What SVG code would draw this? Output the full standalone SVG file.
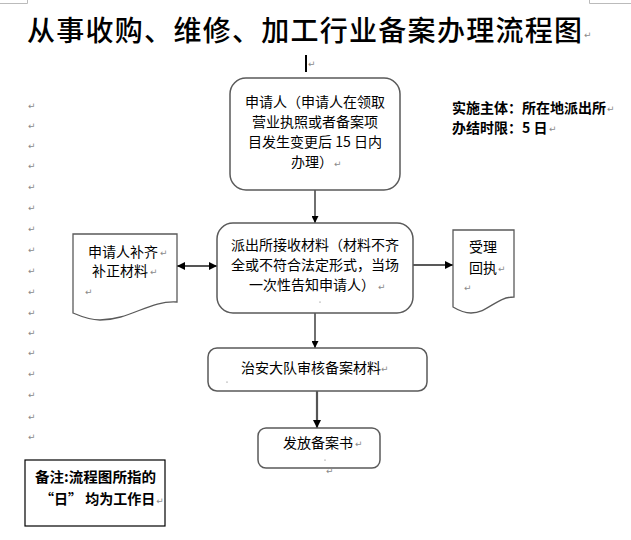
<svg xmlns="http://www.w3.org/2000/svg" width="631" height="540" viewBox="0 0 631 540">
<style>
text{font-family:"Noto Sans CJK SC","Noto Sans",sans-serif;fill:#000}
.t{font-size:14px;text-anchor:middle}
.b{font-size:14px;font-weight:bold}
.pm{font-family:"DejaVu Sans",sans-serif;font-size:9px;fill:#8a8a8a;font-weight:normal}
.box{fill:#fff;stroke:#5a5a5a;stroke-width:1.5}
.doc{fill:#fff;stroke:#5a5a5a;stroke-width:1.3}
.c{stroke:#222;stroke-width:1.3;fill:none}
.cg{stroke:#555;stroke-width:2.2;fill:none}
.crop{stroke:#bbb;stroke-width:1;fill:none}
</style>
<defs>
<marker id="ah" viewBox="0 0 10 10" refX="10" refY="5" markerWidth="7" markerHeight="7" markerUnits="userSpaceOnUse" orient="auto-start-reverse">
<path d="M0,0 L10,5 L0,10 Z" fill="#000"/>
</marker>
<marker id="ah2" viewBox="0 0 10 10" refX="10" refY="5" markerWidth="8" markerHeight="8" markerUnits="userSpaceOnUse" orient="auto-start-reverse">
<path d="M0,0 L10,5 L0,10 Z" fill="#000"/>
</marker>
</defs>
<rect width="631" height="540" fill="#fff"/>
<g id="page-marks">
<path class="crop" d="M0,3.5 H27.5 V0 M631,3.5 H589.5 V0"/>
<rect x="305" y="55" width="2" height="17" fill="#000"/>
<text class="pm" x="308" y="67">↵</text>
<g id="left-marks">
<text class="pm" x="28" y="109">↵</text>
<text class="pm" x="28" y="129">↵</text>
<text class="pm" x="28" y="149">↵</text>
<text class="pm" x="28" y="169">↵</text>
<text class="pm" x="28" y="190">↵</text>
<text class="pm" x="28" y="211">↵</text>
<text class="pm" x="28" y="232">↵</text>
<text class="pm" x="28" y="253">↵</text>
<text class="pm" x="28" y="274">↵</text>
<text class="pm" x="28" y="295">↵</text>
<text class="pm" x="28" y="316">↵</text>
<text class="pm" x="28" y="336">↵</text>
<text class="pm" x="28" y="356">↵</text>
<text class="pm" x="28" y="377">↵</text>
<text class="pm" x="28" y="398">↵</text>
<text class="pm" x="28" y="420">↵</text>
<text class="pm" x="28" y="440">↵</text>
</g>
</g>
<g id="title">
<text x="27" y="41" font-size="28" font-weight="500" textLength="555" lengthAdjust="spacing">从事收购、维修、加工行业备案办理流程图</text>
<text class="pm" x="584" y="38">↵</text>
</g>
<g id="info">
<text class="b" x="452" y="113">实施主体：所在地派出所</text>
<text class="pm" x="607" y="112">↵</text>
<text class="b" x="452" y="133">办结时限：5 日</text>
<text class="pm" x="549" y="132">↵</text>
</g>
<g id="connectors">
<line class="c" x1="315" y1="190" x2="315" y2="223" marker-end="url(#ah)"/>
<line class="cg" x1="177" y1="266" x2="217" y2="266" marker-start="url(#ah2)" marker-end="url(#ah2)"/>
<line class="c" x1="412" y1="265" x2="453" y2="265" marker-end="url(#ah2)"/>
<line class="c" x1="315" y1="313" x2="315" y2="348" marker-end="url(#ah)"/>
<line class="cg" x1="317" y1="391" x2="317" y2="428" marker-end="url(#ah2)"/>
</g>
<g id="node-applicant">
<rect class="box" x="230" y="78" width="170" height="112" rx="16"/>
<text class="t" x="315" y="107">申请人（申请人在领取</text>
<text class="t" x="315" y="127">营业执照或者备案项</text>
<text class="t" x="315" y="147">目发生变更后 15 日内</text>
<text class="t" x="312" y="167">办理）</text>
<text class="pm" x="334" y="167">↵</text>
</g>
<g id="node-receive">
<rect class="box" x="217" y="223" width="196" height="90" rx="16"/>
<text class="t" x="315" y="250">派出所接收材料（材料不齐</text>
<text class="t" x="315" y="270">全或不符合法定形式，当场</text>
<text class="t" x="312" y="290">一次性告知申请人）</text>
<text class="pm" x="378" y="290">↵</text>
<circle cx="320" cy="302" r="0.6" fill="#666"/>
</g>
<g id="node-supplement">
<path class="doc" d="M73,234 H177 V302 C150,300 130,320 100,320 C90,320 80,316 73,313 Z"/>
<text class="t" x="123" y="257">申请人补齐</text>
<text class="pm" x="160" y="256">↵</text>
<text class="t" x="120" y="276">补正材料</text>
<text class="pm" x="150" y="275">↵</text>
<text class="pm" x="85" y="295">↵</text>
</g>
<g id="node-receipt">
<path class="doc" d="M453,230 H514 V297 C496,297 488,313 471,313 C463,313 458,310 453,307 Z"/>
<text class="t" x="483" y="252">受理</text>
<text class="t" x="483" y="273">回执</text>
<text class="pm" x="498" y="272">↵</text>
<text class="pm" x="464" y="291">↵</text>
</g>
<g id="node-review">
<rect class="box" x="208" y="348" width="219" height="43" rx="9"/>
<text class="t" x="311" y="373">治安大队审核备案材料</text>
<text class="pm" x="381" y="372">↵</text>
<circle cx="227" cy="382" r="0.6" fill="#666"/>
</g>
<g id="node-issue">
<rect class="box" x="258" y="428" width="122" height="40" rx="8"/>
<text class="t" x="318" y="448">发放备案书</text>
<text class="pm" x="355" y="447">↵</text>
<circle cx="325" cy="460" r="0.6" fill="#666"/>
<text class="pm" x="326" y="474">↵</text>
</g>
<g id="note">
<rect x="25" y="460" width="140" height="66" fill="#fff" stroke="#000" stroke-width="1.2"/>
<text class="b" x="35" y="482" textLength="121" lengthAdjust="spacingAndGlyphs">备注:流程图所指的</text>
<text class="b" x="40" y="504" font-size="13">“日” 均为工作日<tspan class="pm" dx="1">↵</tspan></text>
</g>
</svg>
